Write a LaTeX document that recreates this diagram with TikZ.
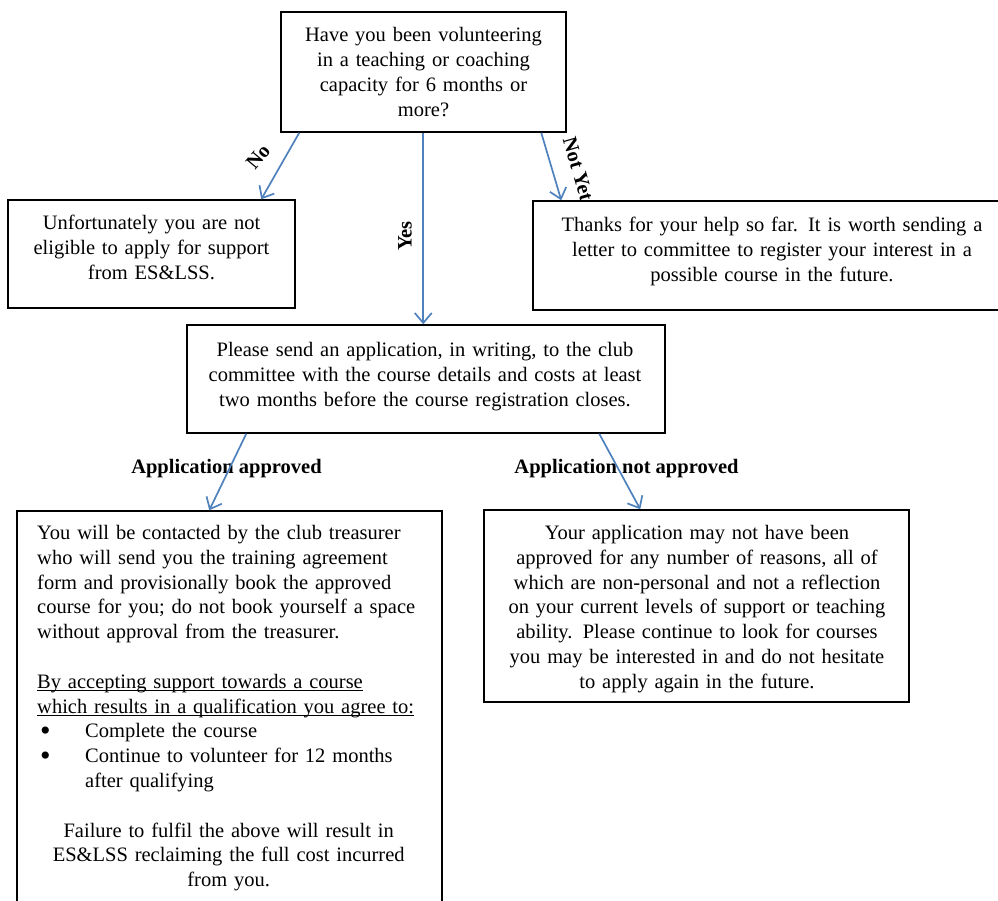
\documentclass[tikz,border=0pt]{standalone}
\usepackage{fontspec}
\setmainfont{Liberation Serif}
\usetikzlibrary{arrows.meta}
\definecolor{arrowblue}{HTML}{4F81BD}
\newcommand\myul[1]{\leavevmode\setbox0\hbox{#1}\rlap{\rule[-2.6pt]{\wd0}{1.1pt}}\box0}
\newcommand\mybul{\makebox[48pt][l]{\hspace*{3pt}\raisebox{-2.5pt}{\fontsize{30}{30}\selectfont\textbullet}}}
\begin{document}
\begin{tikzpicture}[x=1pt,y=-1pt,
  box/.style={draw=black,line width=1.5pt,rectangle,inner sep=0pt},
  txt/.style={inner sep=0pt,font=\fontsize{20.5}{25}\selectfont,align=center},
  lbl/.style={inner sep=0pt,font=\fontsize{20.5}{24}\selectfont\bfseries},
  conn/.style={draw=arrowblue,line width=1.7pt,-{Straight Barb[length=10pt,width=17pt,line width=1.7pt]}}]
\useasboundingbox (0,0) rectangle (998,900);
\clip (0,0) rectangle (998,900);
% boxes
\node[box,minimum width=285pt,minimum height=120pt] (q) at (423.5,72) {};
\node[box,minimum width=287pt,minimum height=108pt] (no) at (151.5,254) {};
\node[box,minimum width=478pt,minimum height=109pt] (ny) at (772,255.5) {};
\node[box,minimum width=478pt,minimum height=108pt] (app) at (426,379) {};
\node[box,minimum width=425pt,minimum height=420pt] (ok) at (229.5,721) {};
\node[box,minimum width=425pt,minimum height=192pt] (nok) at (696.5,606) {};
% texts
\node[txt,text width=280pt,anchor=north] (qt) at (423.5,27) {Have you been volunteering\\in a teaching or coaching\\capacity for 6 months or\\more?};
\node[txt,text width=280pt,anchor=north] (nt) at (151.5,215) {Unfortunately you are not\\eligible to apply for support\\from ES\&LSS.};
\node[txt,text width=470pt,anchor=north] (nyt) at (772,217) {Thanks for your help so far.  It is worth sending a\\letter to committee to register your interest in a\\possible course in the future.};
\node[txt,text width=470pt,anchor=north] (appt) at (425,342) {Please send an application, in writing, to the club\\committee with the course details and costs at least\\two months before the course registration closes.};
\node[txt,text width=420pt,anchor=north,font=\fontsize{20.5}{24.8}\selectfont] (nokt) at (697,525) {Your application may not have been\\approved for any number of reasons, all of\\which are non-personal and not a reflection\\on your current levels of support or teaching\\ability.  Please continue to look for courses\\you may be interested in and do not hesitate\\to apply again in the future.};
\node[txt,text width=400pt,align=left,anchor=north west,font=\fontsize{20.5}{24.8}\selectfont] (okt) at (37,525) {You will be contacted by the club treasurer\\
who will send you the training agreement\\
form and provisionally book the approved\\
course for you; do not book yourself a space\\
without approval from the treasurer.\\[24.8pt]
\myul{By accepting support towards a course}\\
\myul{which results in a qualification you agree to:}\\
\mybul Complete the course\\
\mybul Continue to volunteer for 12 months\\
\hspace*{48pt}after qualifying\\[24.8pt]
\makebox[383pt][c]{Failure to fulfil the above will result in}\\
\makebox[383pt][c]{ES\&LSS reclaiming the full cost incurred}\\
\makebox[383pt][c]{from you.}};
% labels
\node[lbl,rotate=50] (lno) at (258,157) {No};
\node[lbl,rotate=90] (lyes) at (405,236) {Yes};
\node[lbl,rotate=-74] (lny) at (578,169) {Not Yet};
\node[lbl] (lap) at (226.5,469) {Application approved};
\node[lbl] (lnap) at (626.5,469) {Application not approved};
% connectors
\draw[conn] ([xshift=19pt]q.south west) -- ([xshift=254pt]no.north west);
\draw[conn] ([xshift=143pt]q.south west) -- ([xshift=237pt]app.north west);
\draw[conn] ([xshift=261pt]q.south west) -- ([xshift=29pt]ny.north west);
\draw[conn] ([xshift=60pt]app.south west) -- ([xshift=193pt]ok.north west);
\draw[conn] ([xshift=413pt]app.south west) -- ([xshift=157pt]nok.north west);
\end{tikzpicture}
\end{document}
